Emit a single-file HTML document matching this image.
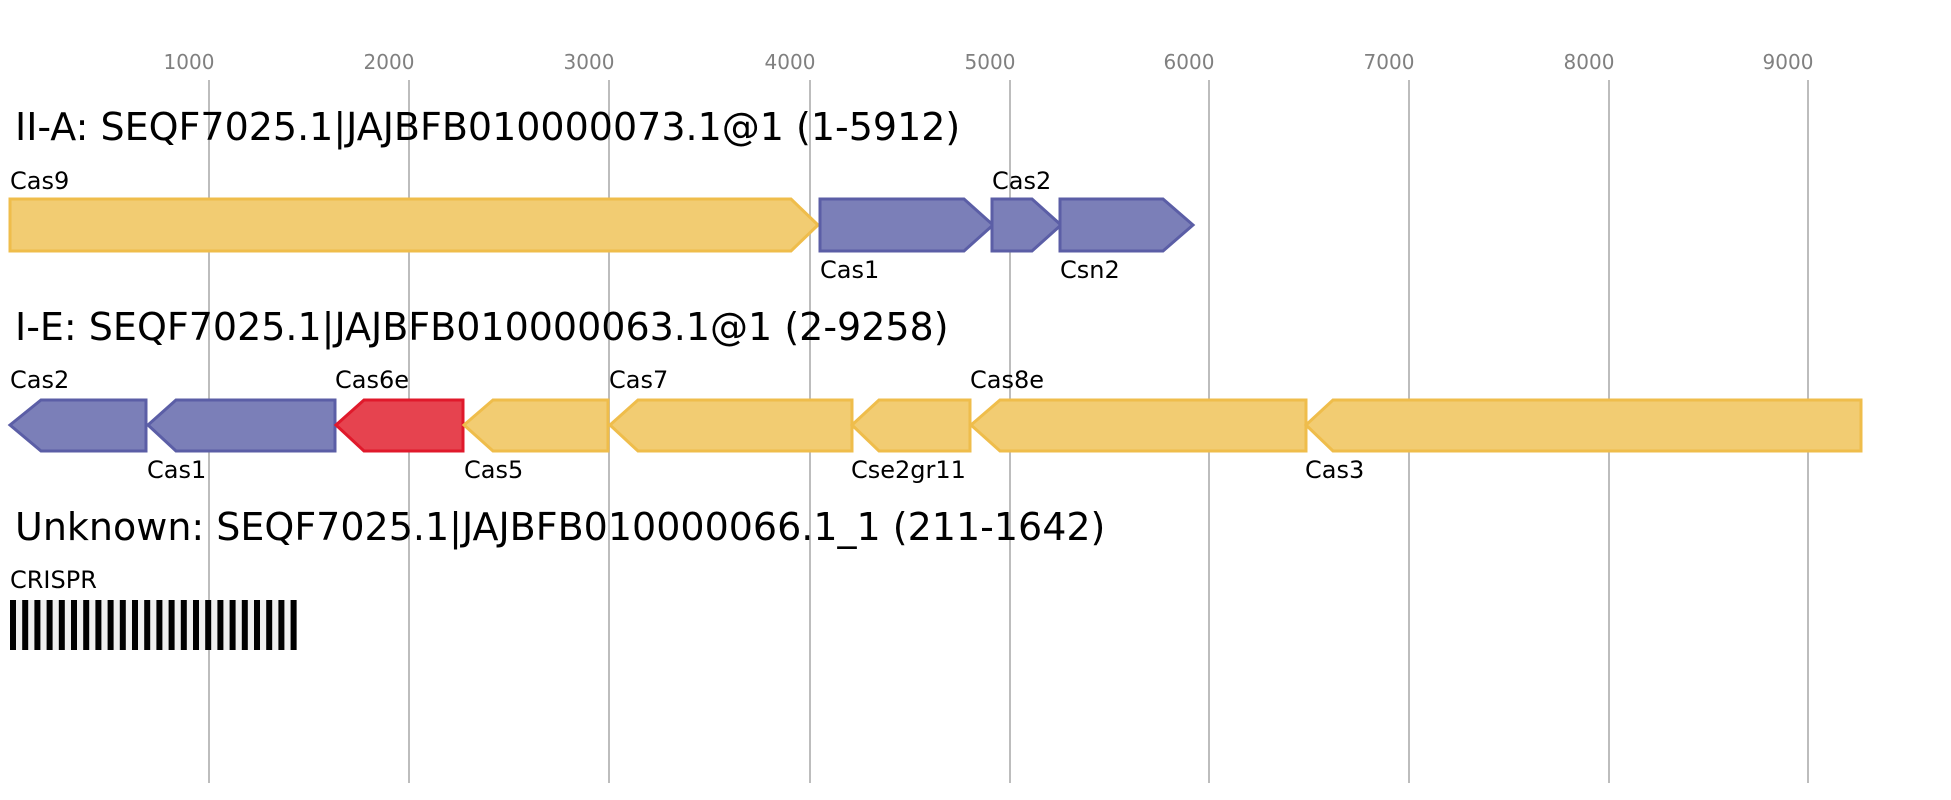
<!DOCTYPE html>
<html><head><meta charset="utf-8"><style>
html,body{margin:0;padding:0;background:#fff;width:1951px;height:800px;overflow:hidden}
svg text{font-family:"DejaVu Sans","Liberation Sans",sans-serif}
</style></head><body>
<svg width="1951" height="800" xmlns="http://www.w3.org/2000/svg">
<g stroke="#bdbdbd" stroke-width="2">
<line x1="209" y1="80" x2="209" y2="783"/><line x1="409" y1="80" x2="409" y2="783"/>
<line x1="609" y1="80" x2="609" y2="783"/><line x1="810" y1="80" x2="810" y2="783"/>
<line x1="1010" y1="80" x2="1010" y2="783"/><line x1="1209" y1="80" x2="1209" y2="783"/>
<line x1="1409" y1="80" x2="1409" y2="783"/><line x1="1609" y1="80" x2="1609" y2="783"/>
<line x1="1808" y1="80" x2="1808" y2="783"/>
</g>
<g fill="#808080" font-size="20" text-anchor="middle">
<text x="189" y="69">1000</text><text x="389" y="69">2000</text><text x="589" y="69">3000</text>
<text x="790" y="69">4000</text><text x="990" y="69">5000</text><text x="1189" y="69">6000</text>
<text x="1389" y="69">7000</text><text x="1589" y="69">8000</text><text x="1788" y="69">9000</text>
</g>
<g font-size="38" fill="#000">
<text x="15" y="140">II-A: SEQF7025.1|JAJBFB010000073.1@1 (1-5912)</text>
<text x="15" y="340">I-E: SEQF7025.1|JAJBFB010000063.1@1 (2-9258)</text>
<text x="15" y="540">Unknown: SEQF7025.1|JAJBFB010000066.1_1 (211-1642)</text>
</g>
<g stroke-width="3" stroke-linejoin="miter">
<polygon points="10,199 791,199 818,225 791,251 10,251" fill="#f2cc72" stroke="#efbd4b"/>
<polygon points="820,199 964,199 993,225 964,251 820,251" fill="#7b7fb8" stroke="#5b5ea6"/>
<polygon points="992,199 1032,199 1061,225 1032,251 992,251" fill="#7b7fb8" stroke="#5b5ea6"/>
<polygon points="1060,199 1163,199 1193,225 1163,251 1060,251" fill="#7b7fb8" stroke="#5b5ea6"/>

<polygon points="10,425 41,400 146,400 146,451 41,451" fill="#7b7fb8" stroke="#5b5ea6"/>
<polygon points="148,425 176,400 335,400 335,451 176,451" fill="#7b7fb8" stroke="#5b5ea6"/>
<polygon points="336,425 364,400 463,400 463,451 364,451" fill="#e6434f" stroke="#e0192b"/>
<polygon points="464,425 493,400 608,400 608,451 493,451" fill="#f2cc72" stroke="#efbd4b"/>
<polygon points="610,425 638,400 852,400 852,451 638,451" fill="#f2cc72" stroke="#efbd4b"/>
<polygon points="852,425 879,400 970,400 970,451 879,451" fill="#f2cc72" stroke="#efbd4b"/>
<polygon points="971,425 1000,400 1306,400 1306,451 1000,451" fill="#f2cc72" stroke="#efbd4b"/>
<polygon points="1306,425 1333,400 1861,400 1861,451 1333,451" fill="#f2cc72" stroke="#efbd4b"/>
</g>
<g font-size="24" fill="#000">
<text x="10" y="189">Cas9</text><text x="820" y="278">Cas1</text>
<text x="992" y="189">Cas2</text><text x="1060" y="278">Csn2</text>
<text x="10" y="388">Cas2</text><text x="147" y="478">Cas1</text>
<text x="335" y="388">Cas6e</text><text x="464" y="478">Cas5</text>
<text x="609" y="388">Cas7</text><text x="851" y="478">Cse2gr11</text>
<text x="970" y="388">Cas8e</text><text x="1305" y="478">Cas3</text>
<text x="10" y="588">CRISPR</text>
</g>
<rect x="10" y="600" width="287" height="50" fill="#f0f0f0"/>
<g fill="#000">
<rect x="10.0" y="600" width="6" height="50"/><rect x="22.2" y="600" width="6" height="50"/>
<rect x="34.4" y="600" width="6" height="50"/><rect x="46.6" y="600" width="6" height="50"/>
<rect x="58.8" y="600" width="6" height="50"/><rect x="71.0" y="600" width="6" height="50"/>
<rect x="83.2" y="600" width="6" height="50"/><rect x="95.4" y="600" width="6" height="50"/>
<rect x="107.6" y="600" width="6" height="50"/><rect x="119.8" y="600" width="6" height="50"/>
<rect x="132.0" y="600" width="6" height="50"/><rect x="144.2" y="600" width="6" height="50"/>
<rect x="156.4" y="600" width="6" height="50"/><rect x="168.6" y="600" width="6" height="50"/>
<rect x="180.8" y="600" width="6" height="50"/><rect x="193.0" y="600" width="6" height="50"/>
<rect x="205.2" y="600" width="6" height="50"/><rect x="217.4" y="600" width="6" height="50"/>
<rect x="229.6" y="600" width="6" height="50"/><rect x="241.8" y="600" width="6" height="50"/>
<rect x="254.0" y="600" width="6" height="50"/><rect x="266.2" y="600" width="6" height="50"/>
<rect x="278.4" y="600" width="6" height="50"/><rect x="290.6" y="600" width="6" height="50"/>
</g>
</svg>
</body></html>
